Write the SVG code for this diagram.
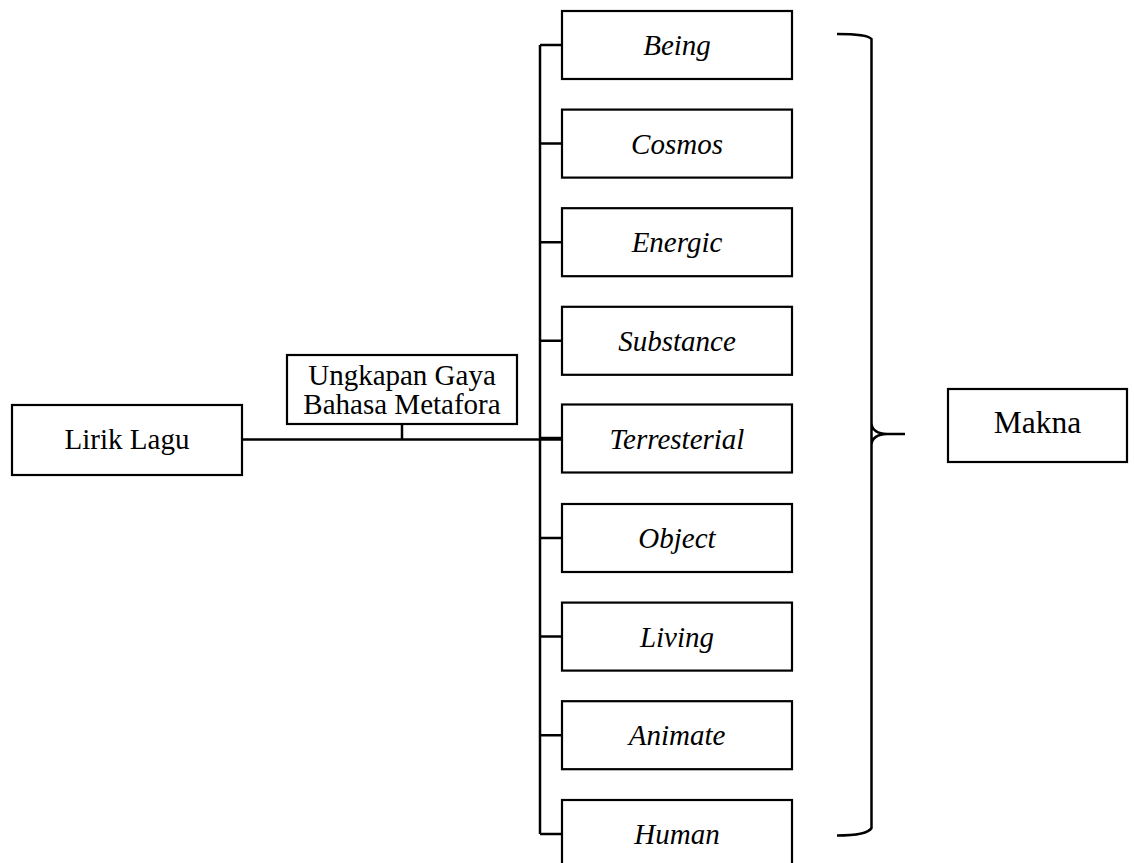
<svg xmlns="http://www.w3.org/2000/svg" width="1134" height="863" viewBox="0 0 1134 863">
<style>
.box{fill:#fff;stroke:#000;stroke-width:2.2}
.t{font-family:"Liberation Serif","Times New Roman",serif;font-size:29px;fill:#000;text-anchor:middle}
.i{font-style:italic}
.ln{fill:none;stroke:#000;stroke-width:2.5}
</style>
<rect width="1134" height="863" fill="#fff"/>
<g id="connectors">
<path class="ln" d="M242 439.5H562" stroke-width="3"/>
<path class="ln" d="M402 424V439"/>
<path class="ln" d="M540 45V834"/>
<path class="ln" d="M540 45H562M540 143.6H562M540 242.2H562M540 340.8H562M540 438H562M540 538H562M540 636.6H562M540 735.2H562M540 834H562"/>
<path class="ln" d="M837 34C855 34 868 35 871.5 39V423C871.5 430 878 434 887 434H905M871.5 423V828C868 834 855 835.5 837 835.5M887 434C878 434 871.5 438 871.5 445"/>
</g>
<g id="lirik"><rect class="box" x="12" y="405" width="230" height="70"/><text class="t" x="127" y="449">Lirik Lagu</text></g>
<g id="ungkapan"><rect class="box" x="287" y="355" width="230" height="69"/><text class="t" x="402" y="385">Ungkapan Gaya</text><text class="t" x="402" y="414">Bahasa Metafora</text></g>
<g id="being"><rect class="box" x="562" y="11" width="230" height="68"/><text class="t i" x="677" y="55">Being</text></g>
<g id="cosmos"><rect class="box" x="562" y="109.6" width="230" height="68"/><text class="t i" x="677" y="153.6">Cosmos</text></g>
<g id="energic"><rect class="box" x="562" y="208.2" width="230" height="68"/><text class="t i" x="677" y="252.2">Energic</text></g>
<g id="substance"><rect class="box" x="562" y="306.8" width="230" height="68"/><text class="t i" x="677" y="350.8">Substance</text></g>
<g id="terresterial"><rect class="box" x="562" y="404.5" width="230" height="68"/><text class="t i" x="677" y="448.5">Terresterial</text></g>
<g id="object"><rect class="box" x="562" y="504" width="230" height="68"/><text class="t i" x="677" y="548">Object</text></g>
<g id="living"><rect class="box" x="562" y="602.6" width="230" height="68"/><text class="t i" x="677" y="646.6">Living</text></g>
<g id="animate"><rect class="box" x="562" y="701.2" width="230" height="68"/><text class="t i" x="677" y="745.2">Animate</text></g>
<g id="human"><rect class="box" x="562" y="800" width="230" height="68"/><text class="t i" x="677" y="844">Human</text></g>
<g id="makna"><rect class="box" x="948" y="389" width="179" height="73"/><text class="t" x="1037.5" y="433" style="font-size:31.5px">Makna</text></g>
</svg>
